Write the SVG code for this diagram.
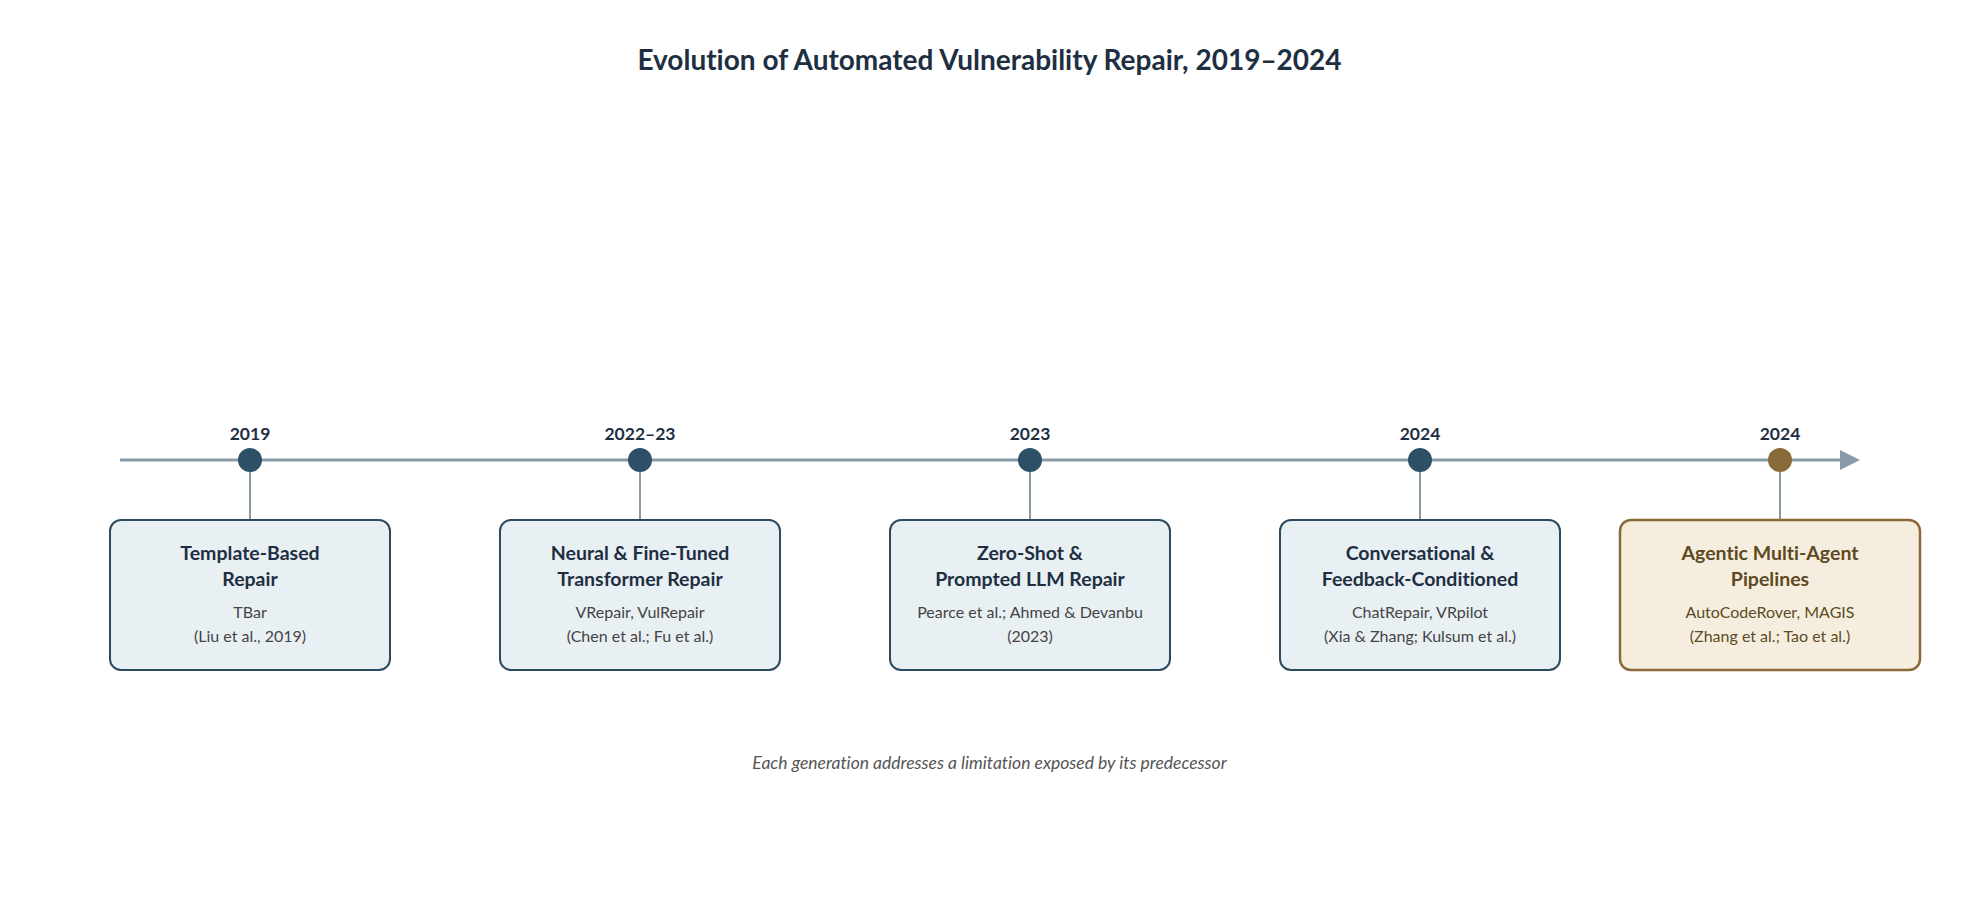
<svg xmlns="http://www.w3.org/2000/svg" width="1979" height="899" viewBox="0 0 1979 899">
<defs>
<marker id="arr" markerWidth="20" markerHeight="20" refX="0" refY="10" orient="auto" markerUnits="userSpaceOnUse">
<path d="M0,0 L20,10 L0,20 Z" fill="#8a9ba8"/>
</marker>
</defs>
<style>
text{font-family:Lato,"Open Sans","Liberation Sans",sans-serif;text-anchor:middle;font-variant-ligatures:none}
.title{font-size:28px;font-weight:700;fill:#1e2f42}
.year{font-size:17.5px;font-weight:700;fill:#1e2f42}
.box{fill:#e9f0f4;stroke:#2c4b60;stroke-width:2}
.boxa{fill:#f5eedf;stroke:#8b6a3a;stroke-width:2.5}
.dot{fill:#2d5066}
.dota{fill:#8b6a3a}
.stem{stroke:#8a9ba8;stroke-width:2}
.h{font-size:19.5px;font-weight:700;fill:#1e2f42}
.ha{font-size:19.5px;font-weight:700;fill:#5e4a22}
.s{font-size:16px;fill:#444}
.sa{font-size:16px;fill:#5e4a22}
.note{font-size:17.5px;font-style:italic;fill:#555}
</style>
<rect width="1979" height="899" fill="#fff"/>
<text class="title" x="989.5" y="70">Evolution of Automated Vulnerability Repair, 2019–2024</text>
<g id="connectors">
<line x1="120" y1="460" x2="1840" y2="460" stroke="#8a9ba8" stroke-width="3" marker-end="url(#arr)"/>
<line class="stem" x1="250" y1="460" x2="250" y2="520"/>
<line class="stem" x1="640" y1="460" x2="640" y2="520"/>
<line class="stem" x1="1030" y1="460" x2="1030" y2="520"/>
<line class="stem" x1="1420" y1="460" x2="1420" y2="520"/>
<line class="stem" x1="1780" y1="460" x2="1780" y2="520"/>
</g>
<g id="n1">
<circle class="dot" cx="250" cy="460" r="12"/>
<text class="year" x="250" y="440">2019</text>
<rect class="box" x="110" y="520" width="280" height="150" rx="11"/>
<text class="h" x="250" y="560">Template-Based</text>
<text class="h" x="250" y="586">Repair</text>
<text class="s" x="250" y="618">TBar</text>
<text class="s" x="250" y="642">(Liu et al., 2019)</text>
</g>
<g id="n2">
<circle class="dot" cx="640" cy="460" r="12"/>
<text class="year" x="640" y="440">2022–23</text>
<rect class="box" x="500" y="520" width="280" height="150" rx="11"/>
<text class="h" x="640" y="560">Neural &amp; Fine-Tuned</text>
<text class="h" x="640" y="586">Transformer Repair</text>
<text class="s" x="640" y="618">VRepair, VulRepair</text>
<text class="s" x="640" y="642">(Chen et al.; Fu et al.)</text>
</g>
<g id="n3">
<circle class="dot" cx="1030" cy="460" r="12"/>
<text class="year" x="1030" y="440">2023</text>
<rect class="box" x="890" y="520" width="280" height="150" rx="11"/>
<text class="h" x="1030" y="560">Zero-Shot &amp;</text>
<text class="h" x="1030" y="586">Prompted LLM Repair</text>
<text class="s" x="1030" y="618">Pearce et al.; Ahmed &amp; Devanbu</text>
<text class="s" x="1030" y="642">(2023)</text>
</g>
<g id="n4">
<circle class="dot" cx="1420" cy="460" r="12"/>
<text class="year" x="1420" y="440">2024</text>
<rect class="box" x="1280" y="520" width="280" height="150" rx="11"/>
<text class="h" x="1420" y="560">Conversational &amp;</text>
<text class="h" x="1420" y="586">Feedback-Conditioned</text>
<text class="s" x="1420" y="618">ChatRepair, VRpilot</text>
<text class="s" x="1420" y="642">(Xia &amp; Zhang; Kulsum et al.)</text>
</g>
<g id="n5">
<circle class="dota" cx="1780" cy="460" r="12"/>
<text class="year" x="1780" y="440">2024</text>
<rect class="boxa" x="1620" y="520" width="300" height="150" rx="11"/>
<text class="ha" x="1770" y="560">Agentic Multi-Agent</text>
<text class="ha" x="1770" y="586">Pipelines</text>
<text class="sa" x="1770" y="618">AutoCodeRover, MAGIS</text>
<text class="sa" x="1770" y="642">(Zhang et al.; Tao et al.)</text>
</g>
<text class="note" x="989.5" y="769">Each generation addresses a limitation exposed by its predecessor</text>
</svg>
